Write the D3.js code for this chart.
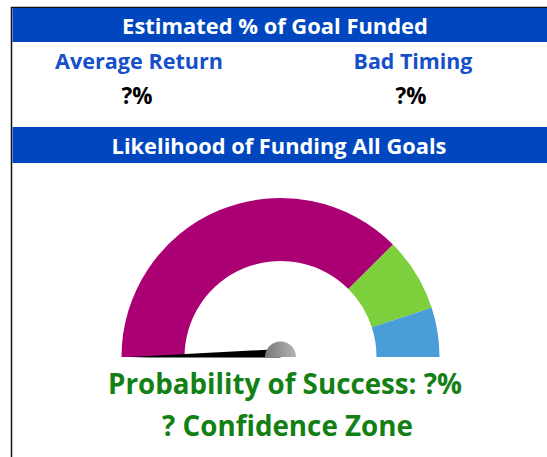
<!DOCTYPE html>
<html><head><meta charset="utf-8">
<script src="https://cdn.jsdelivr.net/npm/d3@7"></script>
<style>html,body{margin:0;padding:0;background:#fff;overflow:hidden}</style>
</head><body>
<svg id="c" width="547" height="457"></svg>
<script>
const headers = ["Estimated % of Goal Funded", "Likelihood of Funding All Goals"];
const scenarioLabels = ["Average Return", "Bad Timing"];
const scenarioValues = ["?%", "?%"];
const zoneNames = ["Low", "Medium", "High"];
const zoneEnds = [75, 90, 100];
const zoneColors = ["#ab0074", "#7ecf3c", "#4a9ed8"];
const needleValue = 0;
const resultLines = ["Probability of Success: ?%", "? Confidence Zone"];

const W = 547, H = 457;
const svg = d3.select("#c");
const font = "'Open Sans', 'Noto Sans', sans-serif";
const blue = "#0047bf";

// fit text to a target width (from the reference)
function fit(sel, target, base) {
  const w = sel.node().getComputedTextLength();
  sel.attr("font-size", base * target / w);
  return sel;
}

// frame
svg.append("line").attr("x1",11.5).attr("x2",11.5).attr("y1",7).attr("y2",H).attr("stroke","#111").attr("stroke-width",1.5);
svg.append("line").attr("x1",11).attr("x2",W).attr("y1",7.5).attr("y2",7.5).attr("stroke","#111").attr("stroke-width",1.5);

// header bars
const bars = [{y:8,h:34,w:306,c:275},{y:127,h:36,w:335,c:279}];
bars.forEach((b,i)=>{
  svg.append("rect").attr("x",12.5).attr("y",b.y).attr("width",W-12.5).attr("height",b.h).attr("fill",blue);
  const t = svg.append("text").attr("x",b.c).attr("y",b.y+b.h/2+1).attr("dy","0.35em")
    .attr("text-anchor","middle").attr("fill","#fff").attr("font-family",font).attr("font-weight",700)
    .attr("font-size",20).text(headers[i]);
  fit(t, b.w, 20);
});

// scenario columns
const colX = d3.scalePoint().domain(scenarioLabels).range([139,413]);
const labW = [168,119];
scenarioLabels.forEach((s,i)=>{
  const t = svg.append("text").attr("x",colX(s)).attr("y",69).attr("text-anchor","middle")
    .attr("fill","#1550c8").attr("font-family",font).attr("font-weight",700).attr("font-size",20).text(s);
  fit(t, labW[i], 20);
  const v = svg.append("text").attr("x",colX(s)-2).attr("y",104).attr("text-anchor","middle")
    .attr("fill","#000").attr("font-family",font).attr("font-weight",700).attr("font-size",19).text(scenarioValues[i]);
  fit(v, 31, 19);
});

// gauge
const cx = 280.5, cy = 357, rOut = 159, rIn = 96;
const ang = d3.scaleLinear().domain([0,100]).range([-Math.PI/2, Math.PI/2]);
const arc = d3.arc().innerRadius(rIn).outerRadius(rOut);
const g = svg.append("g").attr("transform",`translate(${cx},${cy})`);
zoneEnds.forEach((e,i)=>{
  const s = i===0?0:zoneEnds[i-1];
  g.append("path").attr("d",arc({startAngle:ang(s),endAngle:ang(e)})).attr("fill",zoneColors[i]);
});

// needle
const defs = svg.append("defs");
defs.append("clipPath").attr("id","top").append("rect").attr("x",-200).attr("y",-200).attr("width",400).attr("height",200.5);
const grad = defs.append("linearGradient").attr("id","hub").attr("x1",0).attr("x2",1).attr("y1",0).attr("y2",0);
grad.append("stop").attr("offset","0%").attr("stop-color","#777");
grad.append("stop").attr("offset","100%").attr("stop-color","#b5b5b5");
const a = ang(needleValue) - Math.PI/2; // svg angle
const len = 151, hw = 8;
const tip = [len*Math.cos(a), len*Math.sin(a)];
const p1 = [hw*Math.cos(a+Math.PI/2), hw*Math.sin(a+Math.PI/2)];
const p2 = [hw*Math.cos(a-Math.PI/2), hw*Math.sin(a-Math.PI/2)];
const ng = g.append("g").attr("clip-path","url(#top)");
ng.append("path").attr("d",d3.line()([tip,p1,p2])+"Z").attr("fill","#000");
ng.append("path").attr("d",d3.arc().innerRadius(0).outerRadius(15.5)({startAngle:-Math.PI/2,endAngle:Math.PI/2})).attr("fill","url(#hub)");

// result text
const resW = [354,251], resC = [285,287.5], resY = [394,436];
resultLines.forEach((t,i)=>{
  const el = svg.append("text").attr("x",resC[i]).attr("y",resY[i]).attr("text-anchor","middle")
    .attr("fill","#138013").attr("font-family",font).attr("font-weight",700).attr("font-size",25).text(t);
  fit(el, resW[i], 25);
});
</script>
</body></html>
